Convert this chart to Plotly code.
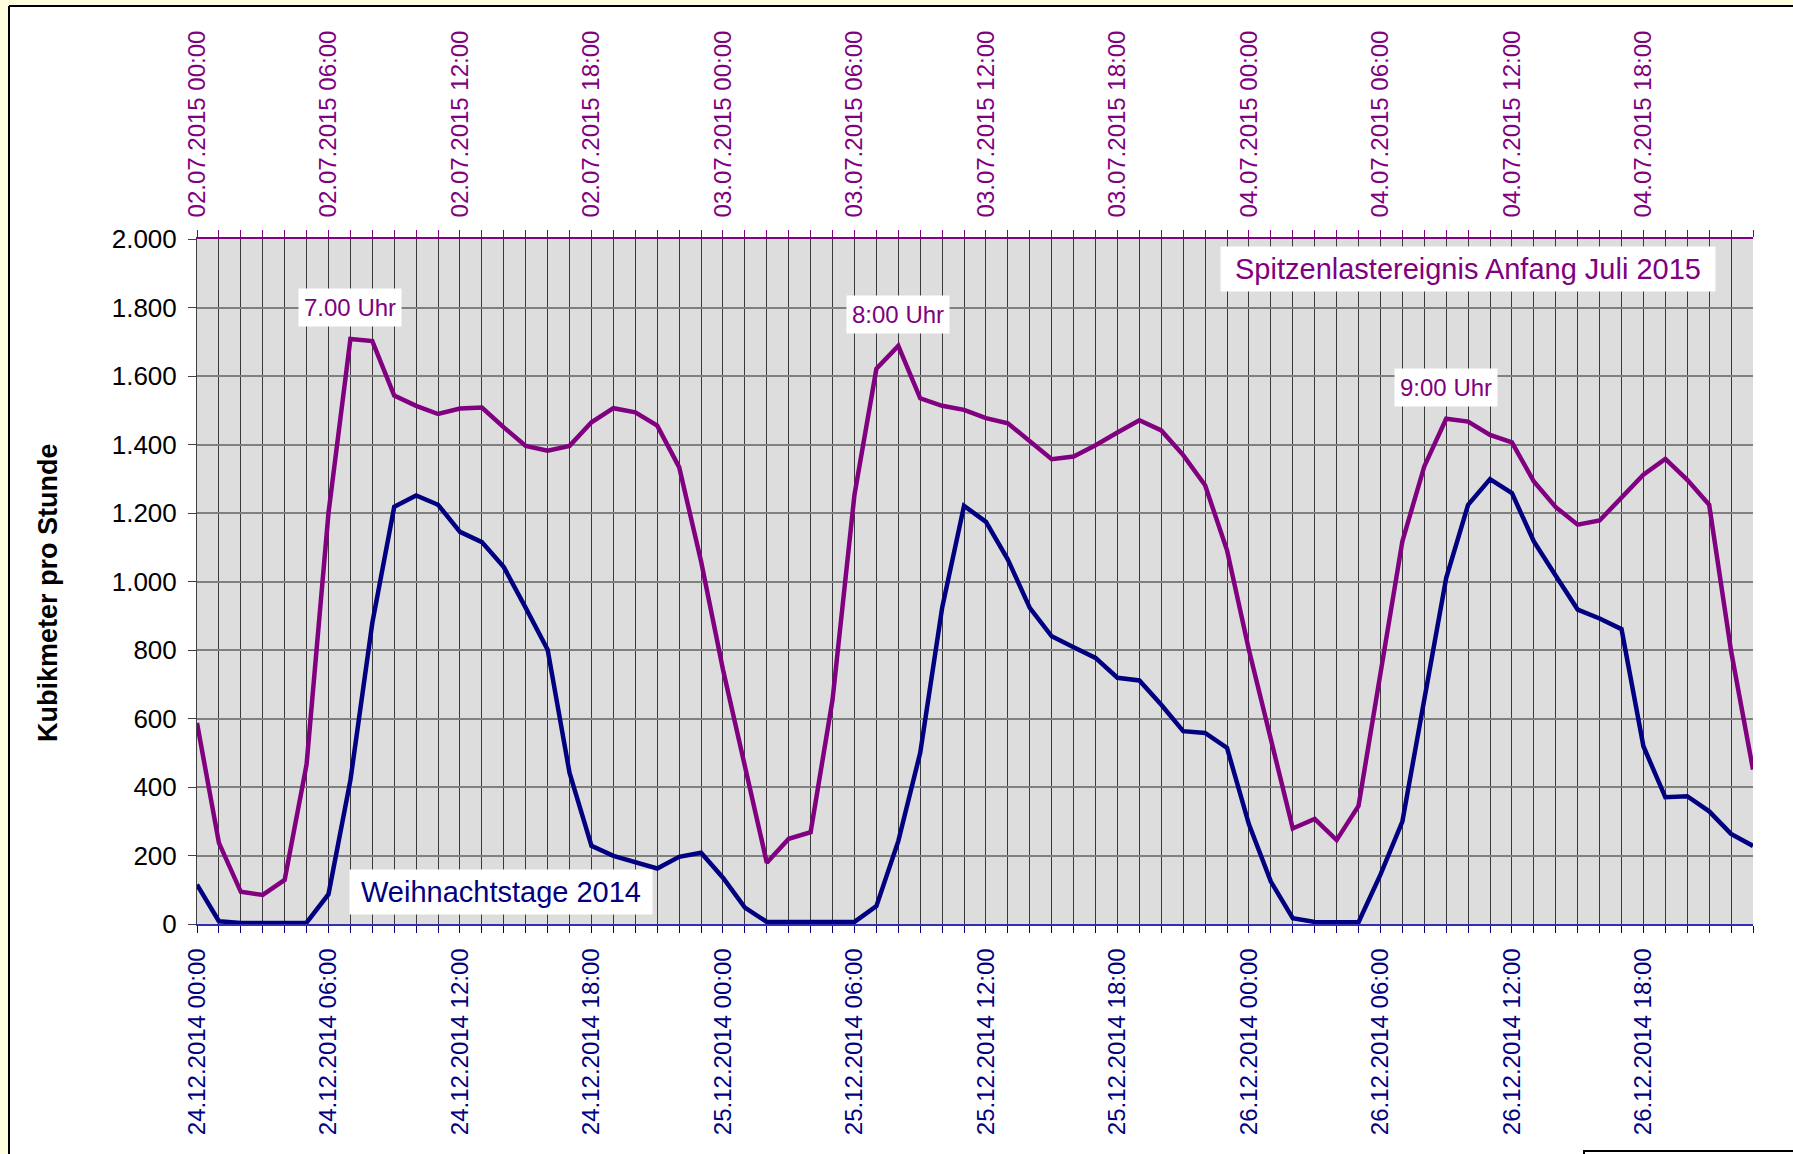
import plotly.graph_objects as go

# ---------------- data (hourly values, Kubikmeter pro Stunde) ----------------
hour_index = list(range(72))

weihnachtstage_2014 = [
    115, 8, 3, 2, 3, 4, 87, 420, 879, 1218, 1251, 1224,
    1145, 1115, 1042, 923, 801, 441, 228, 199, 179, 162, 196, 208,
    135, 48, 6, 5, 5, 6, 6, 52, 242, 500, 923, 1221,
    1174, 1064, 923, 840, 808, 777, 719, 711, 640, 563, 558, 514,
    291, 124, 17, 6, 5, 5, 144, 299, 655, 1010, 1224, 1299,
    1258, 1117, 1017, 918, 892, 861, 519, 370, 373, 329, 263, 228,
]

juli_2015 = [
    587, 237, 94, 85, 129, 466, 1200, 1708, 1702, 1543, 1513, 1489,
    1505, 1508, 1450, 1396, 1382, 1396, 1465, 1506, 1494, 1455, 1334, 1059,
    743, 455, 179, 249, 268, 655, 1253, 1621, 1688, 1535, 1513, 1501,
    1477, 1462, 1409, 1357, 1365, 1398, 1435, 1471, 1441, 1369, 1281, 1091,
    800, 539, 279, 307, 245, 345, 727, 1117, 1336, 1475, 1467, 1428,
    1406, 1292, 1217, 1166, 1178, 1244, 1312, 1358, 1297, 1224, 797, 451,
]

labels_2014 = [
    "24.12.2014 00:00", "24.12.2014 06:00", "24.12.2014 12:00", "24.12.2014 18:00",
    "25.12.2014 00:00", "25.12.2014 06:00", "25.12.2014 12:00", "25.12.2014 18:00",
    "26.12.2014 00:00", "26.12.2014 06:00", "26.12.2014 12:00", "26.12.2014 18:00",
]
labels_2015 = [
    "02.07.2015 00:00", "02.07.2015 06:00", "02.07.2015 12:00", "02.07.2015 18:00",
    "03.07.2015 00:00", "03.07.2015 06:00", "03.07.2015 12:00", "03.07.2015 18:00",
    "04.07.2015 00:00", "04.07.2015 06:00", "04.07.2015 12:00", "04.07.2015 18:00",
]
label_every = 6

y_tick_values = [0, 200, 400, 600, 800, 1000, 1200, 1400, 1600, 1800, 2000]
y_tick_labels = ["0", "200", "400", "600", "800", "1.000", "1.200", "1.400",
                 "1.600", "1.800", "2.000"]

peak_labels = ["7.00 Uhr", "8:00 Uhr", "9:00 Uhr"]
peak_label_x = [7, 32, 57]
peak_label_y = [1800, 1780, 1566]

# ---------------- styling ----------------
FONT = "Liberation Sans, Arial, sans-serif"
NAVY = "#000080"
PURPLE = "#800080"
W, H = 1793, 1154
L, R, T, B = 197, 40, 239, 230
PW, PH = W - L - R, H - T - B


def px_x(p):
    return (p - L) / PW


def px_y(p):
    return (H - B - p) / PH


def sparse_text(labels):
    out = []
    for h in hour_index:
        out.append(labels[h // label_every] if h % label_every == 0 else "")
    return out


fig = go.Figure()

fig.add_trace(go.Scatter(
    x=hour_index, y=weihnachtstage_2014, mode="lines", xaxis="x", yaxis="y",
    line=dict(color=NAVY, width=4.5), name="Weihnachtstage 2014",
))
fig.add_trace(go.Scatter(
    x=hour_index, y=juli_2015, mode="lines", xaxis="x2", yaxis="y",
    line=dict(color=PURPLE, width=4.5), name="Juli 2015",
))

fig.update_layout(
    width=W, height=H, autosize=False,
    margin=dict(l=L, r=R, t=T, b=B, pad=0),
    paper_bgcolor="white",
    plot_bgcolor="#DDDDDD",
    showlegend=False,
    font=dict(family=FONT, color="black"),
    xaxis=dict(
        range=[0, 71], tickmode="array", tickvals=hour_index,
        ticktext=sparse_text(labels_2014), tickangle=-90,
        tickfont=dict(family=FONT, size=24, color=NAVY),
        ticks="outside", ticklen=7, tickwidth=1, tickcolor=NAVY,
        showline=True, linecolor="#3030B0", linewidth=1.5,
        showgrid=True, gridcolor="#3A3A3A", gridwidth=1,
        zeroline=False, ticklabelstandoff=6,
    ),
    xaxis2=dict(
        range=[0, 71], overlaying="x", side="top", tickmode="array",
        tickvals=hour_index, ticktext=sparse_text(labels_2015), tickangle=-90,
        tickfont=dict(family=FONT, size=24, color=PURPLE),
        ticks="outside", ticklen=7, tickwidth=1, tickcolor=PURPLE,
        showline=True, linecolor=PURPLE, linewidth=1.5,
        showgrid=False, zeroline=False, ticklabelstandoff=8,
    ),
    yaxis=dict(
        range=[0, 2000], tickmode="array", tickvals=y_tick_values,
        ticktext=y_tick_labels,
        tickfont=dict(family=FONT, size=26, color="black"),
        ticks="outside", ticklen=8, tickwidth=1, tickcolor="#404040",
        showline=True, linecolor="#404040", linewidth=1,
        showgrid=True, gridcolor="#808080", gridwidth=1.5,
        zeroline=False, ticklabelstandoff=6,
    ),
)

annotations = [
    dict(text="<b>Kubikmeter pro Stunde</b>", xref="paper", yref="paper",
         x=px_x(48), y=px_y(593), textangle=-90, showarrow=False,
         font=dict(family=FONT, size=27, color="black"),
         xanchor="center", yanchor="middle"),
    dict(text="Spitzenlastereignis Anfang Juli 2015", xref="paper", yref="paper",
         x=px_x(1716), y=px_y(269), xanchor="right", yanchor="middle",
         showarrow=False, bgcolor="white", borderpad=6, width=482,
         font=dict(family=FONT, size=29, color=PURPLE)),
    dict(text="Weihnachtstage 2014", xref="paper", yref="paper",
         x=px_x(501), y=px_y(892), xanchor="center", yanchor="middle",
         showarrow=False, bgcolor="white", borderpad=6, width=290,
         font=dict(family=FONT, size=29, color=NAVY)),
]
for txt, xv, yv in zip(peak_labels, peak_label_x, peak_label_y):
    annotations.append(dict(
        text=txt, xref="x", yref="y", x=xv, y=yv, showarrow=False,
        xanchor="center", yanchor="middle", bgcolor="white", borderpad=5,
        font=dict(family=FONT, size=24, color=PURPLE)))
fig.update_layout(annotations=annotations)

# frame: pale yellow page edges with black border, and a box cut off at the bottom right
shapes = [
    dict(type="rect", xref="paper", yref="paper", x0=px_x(-5), x1=px_x(9),
         y0=px_y(H + 5), y1=px_y(-5), fillcolor="#FFFFE0", line=dict(width=0)),
    dict(type="rect", xref="paper", yref="paper", x0=px_x(-5), x1=px_x(W + 5),
         y0=px_y(6), y1=px_y(-5), fillcolor="#FFFFE0", line=dict(width=0)),
    dict(type="line", xref="paper", yref="paper", x0=px_x(9), x1=px_x(W + 5),
         y0=px_y(6), y1=px_y(6), line=dict(color="black", width=2)),
    dict(type="line", xref="paper", yref="paper", x0=px_x(9), x1=px_x(9),
         y0=px_y(6), y1=px_y(H + 5), line=dict(color="black", width=2)),
    dict(type="rect", xref="paper", yref="paper", x0=px_x(1584), x1=px_x(W + 10),
         y0=px_y(H + 10), y1=px_y(1151), fillcolor="white",
         line=dict(color="black", width=2)),
]
fig.update_layout(shapes=shapes)

fig.write_html("out.html", config={"displayModeBar": False},
               post_script="document.body.style.margin='0';")
